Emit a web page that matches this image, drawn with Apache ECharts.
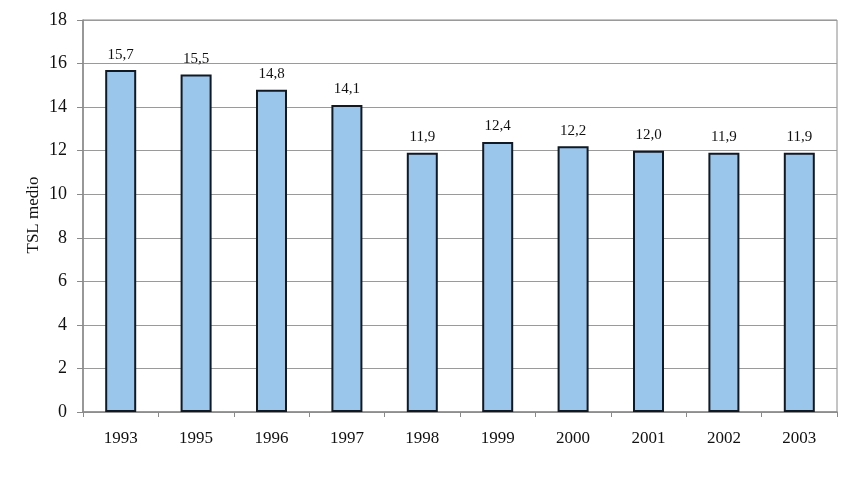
<!DOCTYPE html>
<html>
<head>
<meta charset="utf-8">
<script src="https://cdn.jsdelivr.net/npm/echarts@6/dist/echarts.min.js"></script>
<style>
  html, body { margin: 0; padding: 0; background: #fff; }
  #chart { width: 856px; height: 484px; }
</style>
</head>
<body>
<div id="chart"></div>
<script>
// dati
const anni = ['1993', '1995', '1996', '1997', '1998', '1999', '2000', '2001', '2002', '2003']
const tslMedio = [15.7, 15.5, 14.8, 14.1, 11.9, 12.4, 12.2, 12.0, 11.9, 11.9]
const yTicks = [0, 2, 4, 6, 8, 10, 12, 14, 16, 18]
const titoloY = 'TSL medio'

const chart = echarts.init(document.getElementById('chart'))
const font = '"Liberation Serif", "DejaVu Serif", serif'

chart.setOption({
  animation: false,
  textStyle: { fontFamily: font },
  grid: {
    left: 83,
    right: 19,
    top: 20,
    bottom: 72,
    show: true,
    borderColor: '#8a8a8a',
    borderWidth: 1
  },
  // titolo asse y
  graphic: [{
    type: 'text',
    x: 34,
    y: 215,
    rotation: Math.PI / 2,
    style: {
      text: titoloY,
      fill: '#111',
      font: '17px "Liberation Serif", serif',
      align: 'center',
      verticalAlign: 'middle'
    }
  }],
  xAxis: {
    type: 'category',
    data: anni,
    axisLine: { lineStyle: { color: '#8a8a8a', width: 1.5 } },
    axisTick: { show: true, alignWithLabel: false, length: 5, lineStyle: { color: '#8a8a8a' } },
    axisLabel: { color: '#111', fontSize: 17, fontFamily: font, margin: 18 }
  },
  yAxis: {
    type: 'value',
    min: yTicks[0],
    max: yTicks[yTicks.length - 1],
    interval: 2,
    axisLine: { show: true, lineStyle: { color: '#8a8a8a', width: 1.5 } },
    axisTick: { show: true, length: 6, lineStyle: { color: '#8a8a8a' } },
    axisLabel: { color: '#111', fontSize: 18, fontFamily: font, margin: 16 },
    splitLine: { lineStyle: { color: '#9a9a9a', width: 1 } }
  },
  series: [{
    type: 'bar',
    data: tslMedio,
    barWidth: 31,
    itemStyle: {
      color: '#9ac6ec',
      borderColor: '#111a24',
      borderWidth: 2
    },
    label: {
      show: true,
      position: 'top',
      distance: 8,
      color: '#111',
      fontSize: 15,
      fontFamily: font,
      formatter: p => p.value.toFixed(1).replace('.', ',')
    }
  }]
})
</script>
</body>
</html>
